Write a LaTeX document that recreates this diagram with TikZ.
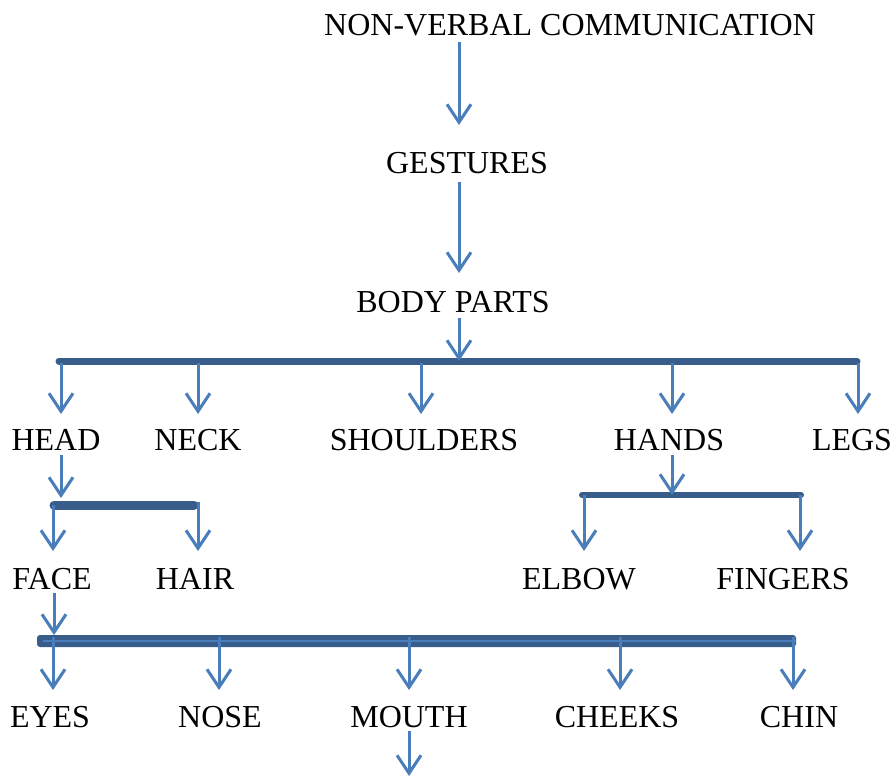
\documentclass[tikz,border=0pt]{standalone}
\usepackage{fontspec}
\setmainfont{Liberation Serif}
\usetikzlibrary{arrows.meta}
\definecolor{lineblue}{HTML}{4A7EBB}
\definecolor{barblue}{HTML}{385D8A}
\begin{document}
\begin{tikzpicture}[x=1pt,y=-1pt,
  lbl/.style={inner sep=0pt,anchor=base,font=\fontsize{32}{36}\selectfont},
  arr/.style={draw=lineblue,line width=3pt,-{Straight Barb[length=18pt,width=24pt,line width=3pt]}},
  bar/.style={draw=barblue,line width=7pt,line cap=round},
  thinline/.style={draw=lineblue,line width=2.5pt}]
\useasboundingbox (0,0) rectangle (893,778);
% texts
\node[lbl] (ncv) at (570,36) {NON-VERBAL COMMUNICATION};
\node[lbl] (gest) at (467,174) {GESTURES};
\node[lbl] (body) at (453,312) {BODY PARTS};
\node[lbl] (head) at (56,450) {HEAD};
\node[lbl] (neck) at (198,450) {NECK};
\node[lbl] (shoul) at (424,450) {SHOULDERS};
\node[lbl] (hands) at (669,450) {HANDS};
\node[lbl] (legs) at (852,450) {LEGS};
\node[lbl] (face) at (52,589) {FACE};
\node[lbl] (hair) at (195,589) {HAIR};
\node[lbl] (elbow) at (579,589) {ELBOW};
\node[lbl] (fing) at (783,589) {FINGERS};
\node[lbl] (eyes) at (50,727) {EYES};
\node[lbl] (nose) at (220,727) {NOSE};
\node[lbl] (mouth) at (409,727) {MOUTH};
\node[lbl] (cheeks) at (617,727) {CHEEKS};
\node[lbl] (chin) at (799,727) {CHIN};
% bars
\coordinate (b1l) at (59,361); \coordinate (b1r) at (857,361);
\coordinate (b2l) at (54,505); \coordinate (b2r) at (194,505);
\coordinate (b3l) at (582,495); \coordinate (b3r) at (801,495);
\coordinate (b4l) at (37,635); \coordinate (b4r) at (796,647);
\draw[bar] (b1l) -- (b1r);
\draw[bar,line width=9pt] (b2l) -- (b2r);
\draw[bar,line width=6pt] (b3l) -- (b3r);
\fill[barblue,rounded corners=3pt] (b4l) rectangle (b4r);
\coordinate (t4l) at (43,641); \coordinate (t4r) at (796,641);
\draw[thinline] (t4l) -- (t4r);
% top chain
\coordinate (a1s) at (459,42); \coordinate (a1e) at (459,125);
\coordinate (a2s) at (459,182); \coordinate (a2e) at (459,273);
\coordinate (a3s) at (459,318); \coordinate (a3e) at (459,361);
\draw[arr] (a1s) -- (a1e);
\draw[arr] (a2s) -- (a2e);
\draw[arr] (a3s) -- (a3e);
% drops from bar 1
\foreach \x/\n in {61/d1,198/d2,421/d3,672/d4,858/d5}{
  \coordinate (\n s) at (\x,363); \coordinate (\n e) at (\x,414);
  \draw[arr] (\n s) -- (\n e);
}
% head to bar 2
\coordinate (hs) at (61,455); \coordinate (he) at (61,498);
\draw[arr] (hs) -- (he);
\coordinate (e1s) at (53,505); \coordinate (e1e) at (53,551);
\coordinate (e2s) at (198,502); \coordinate (e2e) at (198,551);
\draw[arr] (e1s) -- (e1e);
\draw[arr] (e2s) -- (e2e);
% hands to bar 3
\coordinate (hns) at (672,455); \coordinate (hne) at (672,495);
\draw[arr] (hns) -- (hne);
\coordinate (f1s) at (584,495); \coordinate (f1e) at (584,551);
\coordinate (f2s) at (800,495); \coordinate (f2e) at (800,551);
\draw[arr] (f1s) -- (f1e);
\draw[arr] (f2s) -- (f2e);
% face to bar 4
\coordinate (fs) at (54,593); \coordinate (fe) at (54,635);
\draw[arr] (fs) -- (fe);
\foreach \x/\n in {53/g1,219/g2,409/g3,620/g4,793/g5}{
  \coordinate (\n s) at (\x,637); \coordinate (\n e) at (\x,690);
  \draw[arr] (\n s) -- (\n e);
}
% mouth down
\coordinate (ms) at (409,731); \coordinate (me) at (409,776);
\draw[arr] (ms) -- (me);
\end{tikzpicture}
\end{document}
